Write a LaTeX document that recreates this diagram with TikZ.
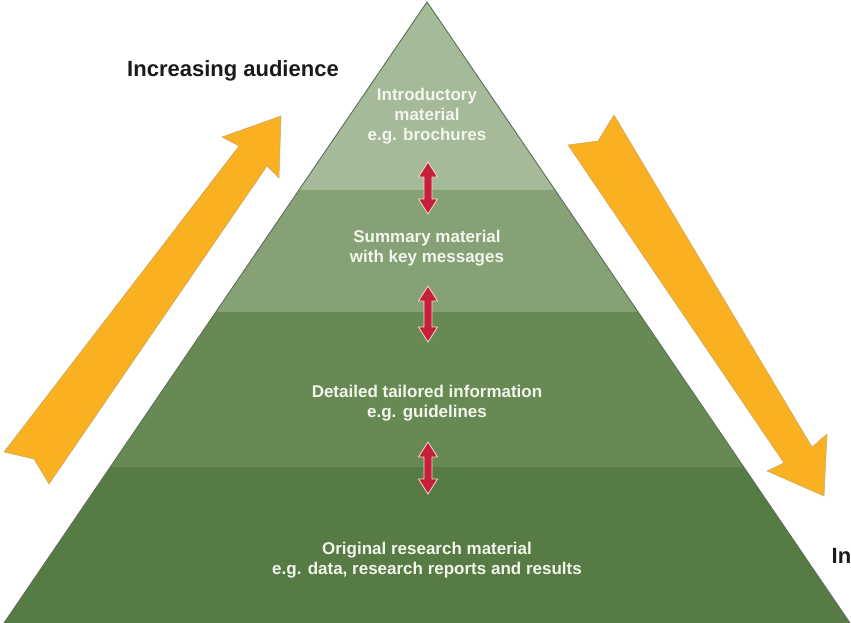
\documentclass[tikz,border=0pt]{standalone}
\usepackage{fontspec}
\setmainfont{Liberation Sans}
\definecolor{c1}{HTML}{A4BA98}
\definecolor{c2}{HTML}{87A177}
\definecolor{c3}{HTML}{678A55}
\definecolor{c4}{HTML}{577B44}
\definecolor{edgec}{HTML}{5E6E58}
\definecolor{arrc}{HTML}{F9B122}
\definecolor{arre}{HTML}{C9A46A}
\definecolor{redc}{HTML}{C51F3B}
\definecolor{rede}{HTML}{F3DCC4}
\definecolor{txtc}{HTML}{F2F6EC}
\definecolor{ttlc}{HTML}{1A1A1A}
\begin{document}
\begin{tikzpicture}[x=1pt,y=-1pt,
  lbl/.style={font=\bfseries\fontsize{17}{20}\selectfont, text=txtc, align=center, inner sep=0pt},
  ttl/.style={font=\bfseries\fontsize{22}{26}\selectfont, text=ttlc, inner sep=0pt},
  orng/.style={fill=arrc, draw=arre, line width=0.5pt, line join=miter},
  dbl/.style={fill=redc, draw=rede, line width=0.8pt, line join=miter},
  edge/.style={draw=edgec, line width=0.9pt}]
\useasboundingbox (0,0) rectangle (851,623);

% pyramid layers
\begin{scope}
  \clip (427,2) -- (850,623) -- (4,623) -- cycle;
  \fill[c1] (0,0) rectangle (851,190);
  \fill[c2] (0,190) rectangle (851,312);
  \fill[c3] (0,312) rectangle (851,467);
  \fill[c4] (0,467) rectangle (851,623);
\end{scope}
\draw[edge] (4,623) -- (427,2) -- (850,623);

% orange arrows
\draw[orng] (4,452) -- (239,146) -- (222,137) -- (281,116) -- (279,178) -- (267,166) -- (49,484) -- (34,459) -- cycle;
\draw[orng] (614,115) -- (812,447) -- (827,434) -- (824,496) -- (767,471) -- (784,463) -- (568,145) -- (598,141) -- cycle;

% red double arrows
\foreach \a/\b in {162/214, 286/342, 442/494}{
  \draw[dbl] (428,\a) -- (437.5,\a+15) -- (432,\a+15) -- (432,\b-15) -- (437.5,\b-15)
    -- (428,\b) -- (418.5,\b-15) -- (424,\b-15) -- (424,\a+15) -- (418.5,\a+15) -- cycle;
}

% texts
\node[lbl] (t1) at (427,116) {Introductory\\material\\e.g. brochures};
\node[lbl] (t2) at (427,248) {Summary material\\with key messages};
\node[lbl] (t3) at (427,403) {Detailed tailored information\\e.g. guidelines};
\node[lbl] (t4) at (427,560) {Original research material\\e.g. data, research reports and results};

\node[ttl, anchor=base] (ia) at (233,77) {Increasing audience};
\node[ttl, anchor=base west] (id) at (831.5,563) {In};
\end{tikzpicture}
\end{document}
